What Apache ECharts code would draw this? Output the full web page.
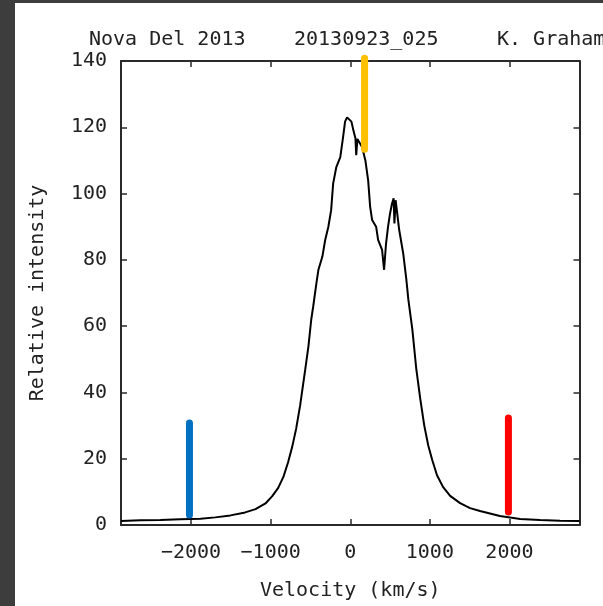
<!DOCTYPE html>
<html>
<head>
<meta charset="utf-8">
<script src="https://cdn.jsdelivr.net/npm/echarts@6/dist/echarts.min.js"></script>
<style>
html,body{margin:0;padding:0;background:#3d3d3d;}
#chart{width:603px;height:606px;}
</style>
</head>
<body>
<div id="chart"></div>
<script>
// Spectrum: velocity (km/s) and relative intensity
var velocity = [-2880,-2635,-2385,-2135,-1880,-1695,-1505,-1320,-1190,-1065,-980,-905,-840,-780,-730,-680,-630,-565,-525,-490,-465,-425,-400,-350,-315,-275,-240,-215,-175,-125,-90,-65,-40,-15,15,40,65,75,90,115,150,190,225,250,275,325,350,400,425,450,475,500,525,545,555,570,590,615,665,705,730,780,830,880,930,980,1030,1090,1165,1255,1380,1505,1630,1880,2135,2385,2635,2880];
var intensity = [1.2,1.4,1.5,1.7,1.9,2.3,2.9,3.8,4.8,6.5,8.7,11.2,14.5,19,23.5,29,36,47,54,62,66,73,77,81,86,90,95,103,108,111,117,121.7,123,123.2,121.7,119,116.7,111.6,116.5,116.8,114,110,104,96,92,90,86,83,77,85,90,94,97,98.6,91,98,94,89,82,74,68,59,47,38,30,24,19.6,15,11.5,8.8,6.6,5.1,4.2,2.7,1.8,1.5,1.3,1.2];

// Marker bars: [velocity, bottom, top]
var blueMarker = [-2020, 3.0, 30.8];
var redMarker = [1987, 3.9, 32.3];
var orangeMarker = [180, 113.4, 140.8];

var titleParts = ['Nova Del 2013', '20130923_025', 'K. Graham'];
var xTitle = 'Velocity (km/s)';
var yTitle = 'Relative intensity';
var xRange = [-2880, 2880];
var yRange = [0, 140];
var yStep = 20;

var FONT = 'DejaVu Sans Mono';
var FS = 20;
var TXT = '#222';
var AX = '#2a2a2a';

var spectrum = velocity.map(function(v, i){ return [v, intensity[i]]; });
function bar(m){ return [[m[0], m[1]], [m[0], m[2]]]; }

var chart = echarts.init(document.getElementById('chart'), null, {renderer:'canvas'});
var axisCommon = {
  axisLine: {show:true, onZero:false, lineStyle:{color:AX, width:2}},
  axisTick: {show:true, inside:true, length:6, lineStyle:{color:AX, width:1.5}},
  splitLine: {show:false}
};
var ts = {fontFamily:FONT, fontSize:FS, fontWeight:'normal', color:TXT};
chart.setOption({
  backgroundColor: '#3d3d3d',
  animation: false,
  graphic: [{type:'rect', z:-100, shape:{x:15, y:3, width:588, height:603}, style:{fill:'#ffffff'}}],
  title: [
    {text:titleParts[0], left:89, top:30, padding:0, textStyle:ts},
    {text:titleParts[1], left:294, top:30, padding:0, textStyle:ts},
    {text:titleParts[2], left:497, top:30, padding:0, textStyle:ts}
  ],
  grid: {left:121, top:61, right:23.5, bottom:81, containLabel:false},
  xAxis: [
    Object.assign({}, axisCommon, {
      type:'value', position:'bottom', min:xRange[0], max:xRange[1], splitNumber:5,
      name:xTitle, nameLocation:'middle', nameGap:56,
      nameTextStyle:{fontFamily:FONT, fontSize:FS, color:TXT},
      axisLabel:{margin:18, fontFamily:FONT, fontSize:FS, color:TXT,
        formatter:function(v){ return (v % 1000 === 0) ? (v < 0 ? '\u2212' + (-v) : String(v)) : ''; }}
    }),
    Object.assign({}, axisCommon, {
      type:'value', position:'top', min:xRange[0], max:xRange[1], splitNumber:5,
      axisLabel:{show:false}
    })
  ],
  yAxis: [
    Object.assign({}, axisCommon, {
      type:'value', position:'left', min:yRange[0], max:yRange[1], interval:yStep,
      name:yTitle, nameLocation:'middle', nameGap:73,
      nameTextStyle:{fontFamily:FONT, fontSize:FS, color:TXT},
      axisLabel:{margin:14, fontFamily:FONT, fontSize:FS, color:TXT}
    }),
    Object.assign({}, axisCommon, {
      type:'value', position:'right', min:yRange[0], max:yRange[1], interval:yStep,
      axisLabel:{show:false}
    })
  ],
  series: [
    {type:'line', data:spectrum, showSymbol:false, symbol:'none', lineStyle:{color:'#000', width:2}, z:3},
    {type:'line', data:bar(blueMarker), showSymbol:false, symbol:'none', clip:false, lineStyle:{color:'#0070C0', width:7, cap:'round'}, z:4},
    {type:'line', data:bar(redMarker), showSymbol:false, symbol:'none', clip:false, lineStyle:{color:'#FF0000', width:7, cap:'round'}, z:4},
    {type:'line', data:bar(orangeMarker), showSymbol:false, symbol:'none', clip:false, lineStyle:{color:'#FFC000', width:7, cap:'round'}, z:4}
  ]
});
</script>
</body>
</html>
